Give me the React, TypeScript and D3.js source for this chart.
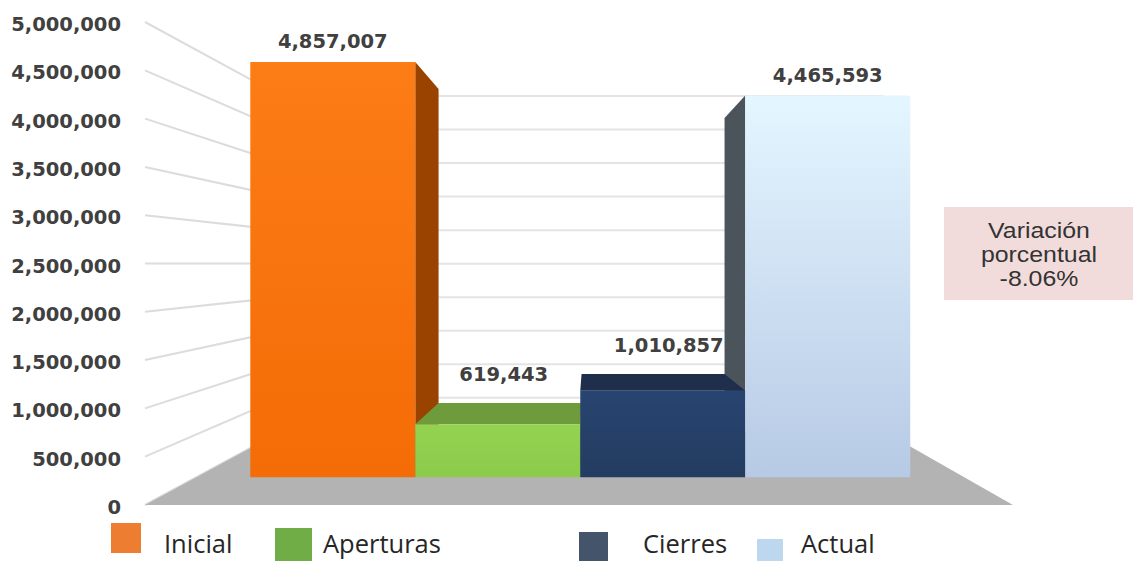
import React from 'react';
import * as d3 from 'd3';

// ---- data ----
const categories = ['Inicial', 'Aperturas', 'Cierres', 'Actual'];
const values = [4857007, 619443, 1010857, 4465593];
const yTickValues = [0, 500000, 1000000, 1500000, 2000000, 2500000, 3000000, 3500000, 4000000, 4500000, 5000000];
const variationLines = ['Variación', 'porcentual', '-8.06%'];

// ---- styles ----
const frontColors = [
  ['#fc7c16', '#f46c06'],
  ['#94d252', '#8bca4a'],
  ['#284470', '#233c60'],
  ['#e4f6ff', '#b7cae5'],
];
const topColors = ['#c85a08', '#6e9b3c', '#1f2f4b', '#9fb4cf'];
const sideColors = ['#9a4300', '#5d8a2e', '#1a2840', '#4b535b'];
const legendColors = ['#ed7d31', '#70ad47', '#44546a', '#bdd7ee'];
const legendLayout = [
  { sx: 111, sy: 523, sw: 30, sh: 30, tx: 164 },
  { sx: 275, sy: 528, sw: 37, sh: 33, tx: 323 },
  { sx: 579, sy: 532, sw: 29, sh: 29, tx: 643 },
  { sx: 757, sy: 539, sw: 26, sh: 22, tx: 801 },
];

// ---- perspective ----
const W = 1133;
const H = 561;
const VX = 590;
const VY = 264;
const S_FRONT = 0.885;
const S_BACK = 0.767;
const S_WALL = 0.694;

const yRef = d3.scaleLinear().domain([0, 5000000]).range([505, 22]);
const xRef = d3.scaleBand<string>().domain(categories).range([145, 1013]).paddingInner(0).paddingOuter(0.328);
const X_LEFT = 145;
const X_RIGHT = 1013;

const proj = (X: number, Y: number, s: number): [number, number] => [VX + s * (X - VX), VY + s * (Y - VY)];
const poly = (pts: [number, number][]) => pts.map((p) => p.join(',')).join(' ');
const fmt = d3.format(',');

export default function App() {
  const bw = xRef.bandwidth();
  const y0 = yRef(0);

  const bars = categories.map((c, i) => {
    const X0 = xRef(c) as number;
    const X1 = X0 + bw;
    const yT = yRef(values[i]);
    const front = [proj(X0, yT, S_FRONT), proj(X1, yT, S_FRONT), proj(X1, y0, S_FRONT), proj(X0, y0, S_FRONT)];
    const top = yT > VY ? [proj(X0, yT, S_FRONT), proj(X1, yT, S_FRONT), proj(X1, yT, S_BACK), proj(X0, yT, S_BACK)] : null;
    let side: [number, number][] | null = null;
    if (X1 < VX) side = [proj(X1, yT, S_FRONT), proj(X1, yT, S_BACK), proj(X1, y0, S_BACK), proj(X1, y0, S_FRONT)];
    else if (X0 > VX) side = [proj(X0, yT, S_FRONT), proj(X0, yT, S_BACK), proj(X0, y0, S_BACK), proj(X0, y0, S_FRONT)];
    const frontTop = proj(X0, yT, S_FRONT)[1];
    const backTop = proj(X0, yT, S_BACK)[1];
    const tall = yT < VY;
    const fc = proj((X0 + X1) / 2, yT, S_FRONT)[0];
    const lx = tall ? fc : fc + 6;
    const ly = tall ? frontTop - 14 : backTop - 22;
    return { c, i, front, top, side, lx, ly };
  });

  const floor = [proj(X_LEFT, y0, 1), proj(X_RIGHT, y0, 1), proj(X_RIGHT, y0, S_WALL), proj(X_LEFT, y0, S_WALL)];

  return (
    <svg width={W} height={H} style={{ position: 'absolute', left: 0, top: 0, background: '#fff' }}>
      <defs>
        {frontColors.map((fc, i) => (
          <linearGradient key={i} id={`fg${i}`} x1="0" y1="0" x2="0" y2="1">
            <stop offset="0" stopColor={fc[0]} />
            <stop offset="1" stopColor={fc[1]} />
          </linearGradient>
        ))}
      </defs>

      {/* side wall gridlines */}
      {yTickValues.map((v) => {
        const a = proj(X_LEFT, yRef(v), 1);
        const b = proj(X_LEFT, yRef(v), S_WALL);
        return <line key={'lw' + v} x1={a[0]} y1={a[1]} x2={b[0]} y2={b[1]} stroke="#dcdcdc" strokeWidth={2} />;
      })}
      {/* back wall gridlines */}
      {yTickValues.map((v) => {
        const a = proj(X_LEFT, yRef(v), S_WALL);
        const b = proj(X_RIGHT, yRef(v), S_WALL);
        return <line key={'bw' + v} x1={a[0]} y1={a[1]} x2={b[0]} y2={b[1]} stroke="#e4e4e4" strokeWidth={2} />;
      })}

      {/* floor */}
      <polygon points={poly(floor)} fill="#b3b3b3" />

      {/* bars: sides, tops, fronts */}
      {bars.map((b) => b.side && <polygon key={'s' + b.c} points={poly(b.side)} fill={sideColors[b.i]} />)}
      {bars.map((b) => b.top && <polygon key={'t' + b.c} points={poly(b.top)} fill={topColors[b.i]} />)}
      {bars.map((b) => (
        <polygon key={'f' + b.c} points={poly(b.front)} fill={`url(#fg${b.i})`} />
      ))}

      {/* data labels */}
      {bars.map((b) => (
        <text
          key={'l' + b.c}
          x={b.lx}
          y={b.ly}
          textAnchor="middle"
          fontFamily="DejaVu Sans"
          fontWeight="bold"
          fontSize={19.5}
          fill="#404040"
        >
          {fmt(values[b.i])}
        </text>
      ))}

      {/* y axis labels */}
      {yTickValues.map((v) => (
        <text
          key={'y' + v}
          x={121}
          y={yRef(v) + 9}
          textAnchor="end"
          fontFamily="DejaVu Sans"
          fontWeight="bold"
          fontSize={19.5}
          fill="#404040"
        >
          {fmt(v)}
        </text>
      ))}

      {/* legend */}
      {categories.map((c, i) => {
        const L = legendLayout[i];
        return (
          <g key={'lg' + c}>
            <rect x={L.sx} y={L.sy} width={L.sw} height={L.sh} fill={legendColors[i]} />
            <text x={L.tx} y={553} fontFamily="Open Sans" fontSize={25.5} fill="#262626">
              {c}
            </text>
          </g>
        );
      })}

      {/* variation box */}
      <rect x={944} y={207} width={W - 944} height={93} fill="#f2dcdb" />
      <g transform="translate(1039,0) scale(1.13,1) translate(-1039,0)">
        {variationLines.map((t, k) => (
          <text
            key={'v' + k}
            x={1039}
            y={238 + k * 24}
            textAnchor="middle"
            fontFamily="Liberation Sans"
            fontSize={22}
            fill="#333333"
          >
            {t}
          </text>
        ))}
      </g>
    </svg>
  );
}
